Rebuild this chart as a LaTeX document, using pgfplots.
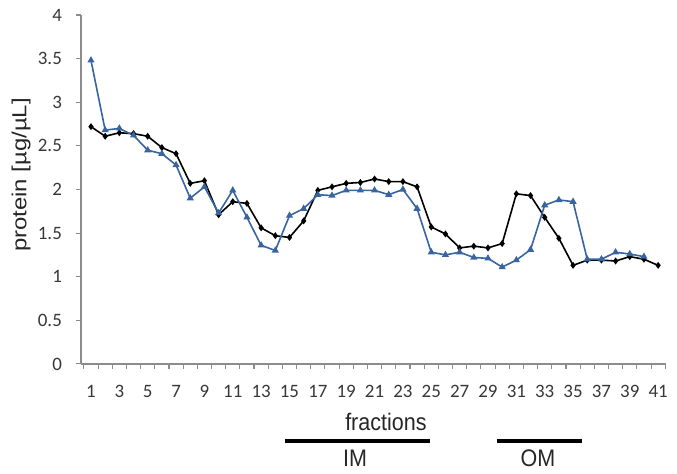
\documentclass[border=0pt]{standalone}
\usepackage{graphicx}
\usepackage{fontspec}
\setmainfont{Liberation Sans}
\newfontfamily\narrowfont{Liberation Sans}[FakeStretch=0.9]
\newfontfamily\tickfont{Carlito}
\usepackage{pgfplots}
\pgfplotsset{compat=1.18}
\definecolor{axisgray}{RGB}{140,140,140}
\definecolor{labelgray}{RGB}{55,55,55}
\definecolor{serblue}{RGB}{56,100,160}
\begin{document}
\begin{tikzpicture}
\begin{axis}[
  scale only axis, width=585bp, height=349bp,
  xmin=0.3, xmax=41.55, ymin=0, ymax=4,
  axis x line=bottom, axis y line=left,
  axis line style={-, draw=axisgray, line width=1.4bp},
  tick align=outside,
  major tick length=5bp, minor tick length=5bp,
  every tick/.style={draw=axisgray, line width=1.1bp},
  xtick={1,3,...,41},
  minor xtick={0.5,1.5,...,41.5},
  major x tick style={draw=none},
  ytick={0,0.5,...,4},
  /pgf/number format/assume math mode=true,
  tick label style={font=\tickfont\fontsize{19}{19}\selectfont, text=labelgray},
  yticklabel style={anchor=east, inner sep=0pt, xshift=-14bp},
  xticklabel style={anchor=north, inner sep=0pt, yshift=-16bp},
  ylabel={\scalebox{1}[0.85]{protein [µg/µL]}},
  ylabel style={at={(rel axis cs:-0.1026,0.5415)}, anchor=center, font=\fontsize{24}{24}\selectfont, text=black!85},
  clip=false,
]
\addplot[black, line width=1.6bp, mark=diamond*, mark size=2.2bp, mark options={solid}] coordinates {
(1,2.72) (2,2.61) (3,2.65) (4,2.64) (5,2.61) (6,2.48) (7,2.41) (8,2.07) (9,2.10) (10,1.71)
(11,1.86) (12,1.84) (13,1.56) (14,1.47) (15,1.45) (16,1.64) (17,1.99) (18,2.03) (19,2.07) (20,2.08)
(21,2.12) (22,2.09) (23,2.09) (24,2.03) (25,1.57) (26,1.49) (27,1.33) (28,1.35) (29,1.33) (30,1.38)
(31,1.95) (32,1.93) (33,1.68) (34,1.44) (35,1.13) (36,1.19) (37,1.19) (38,1.18) (39,1.23) (40,1.20)
(41,1.13)
};
\addplot[serblue, line width=1.6bp, mark=triangle*, mark size=2.6bp, mark options={solid}] coordinates {
(1,3.48) (2,2.68) (3,2.70) (4,2.62) (5,2.45) (6,2.41) (7,2.28) (8,1.90) (9,2.03) (10,1.73)
(11,1.99) (12,1.68) (13,1.36) (14,1.30) (15,1.70) (16,1.78) (17,1.94) (18,1.93) (19,1.99) (20,1.99)
(21,1.99) (22,1.94) (23,2.00) (24,1.78) (25,1.28) (26,1.25) (27,1.28) (28,1.22) (29,1.21) (30,1.11)
(31,1.19) (32,1.31) (33,1.82) (34,1.88) (35,1.86) (36,1.20) (37,1.20) (38,1.28) (39,1.26) (40,1.23)
};
\draw[black, line width=3.2bp] (axis cs:14.68,-0.883) -- (axis cs:24.9,-0.883);
\draw[black, line width=3.2bp] (axis cs:29.63,-0.883) -- (axis cs:35.63,-0.883);
\node[font=\narrowfont\fontsize{24}{24}\selectfont, text=black!85, anchor=center, inner sep=0pt] at (axis cs:21.8,-0.661) {fractions};
\node[font=\narrowfont\fontsize{24}{24}\selectfont, text=black!85, anchor=center, inner sep=0pt] at (axis cs:19.62,-1.077) {IM};
\node[font=\narrowfont\fontsize{24}{24}\selectfont, text=black!85, anchor=center, inner sep=0pt] at (axis cs:32.52,-1.077) {OM};
\path (axis cs:-5.417,-1.261) rectangle (axis cs:42.33,4.172);
\end{axis}
\end{tikzpicture}
\end{document}
